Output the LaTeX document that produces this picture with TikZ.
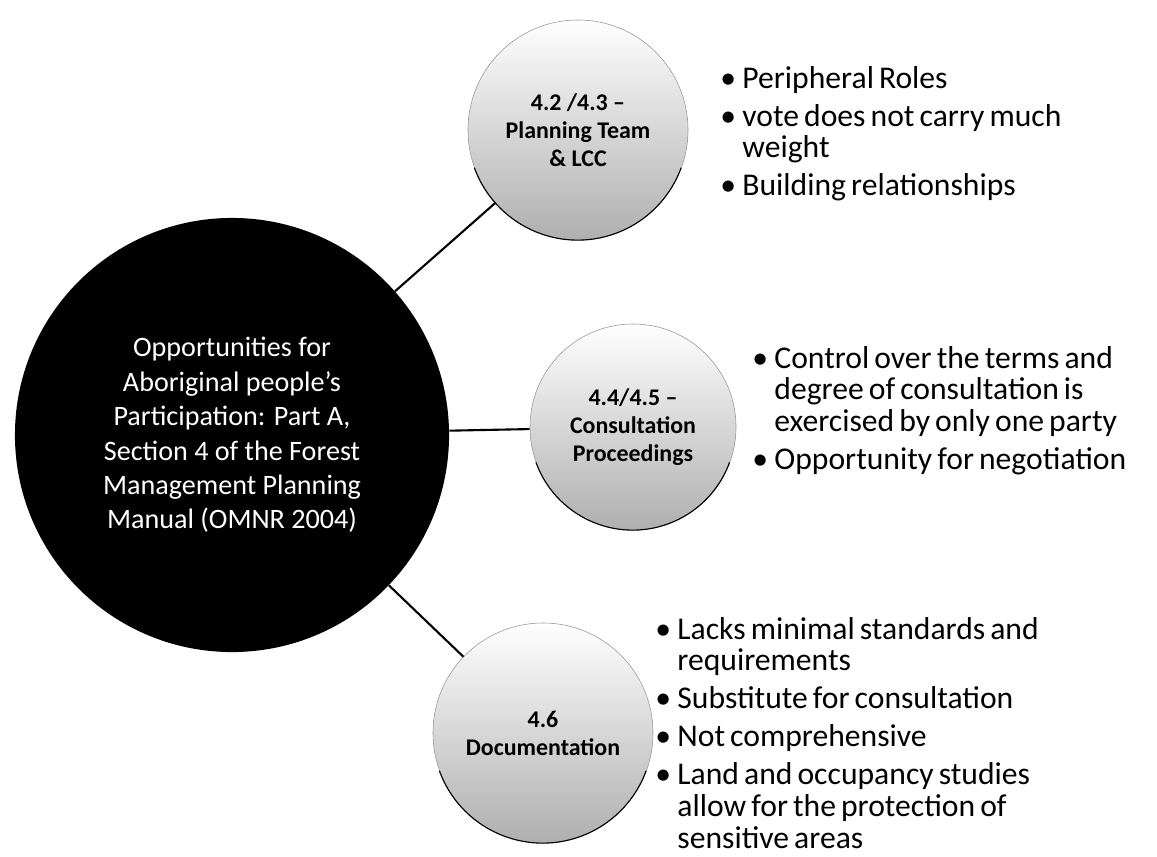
\documentclass[tikz,border=0pt]{standalone}
\usepackage{fontspec}
\setmainfont{Carlito}
\usetikzlibrary{positioning}
\tikzstyle{diagram} = [x = 0.025cm, y = -0.025cm]
\definecolor{rimColor}{RGB}{150,150,150}
\definecolor{speckleColor}{RGB}{175,175,175}
\tikzstyle{hubStyle} = [circle, fill=black, text=white, minimum size=10.85cm, align=center, font=\fontsize{20}{24.5}\selectfont]
\tikzstyle{topicStyle} = [circle, top color=white, middle color=white, bottom color=speckleColor, draw=rimColor, thin, align=center, font=\bfseries\fontsize{17}{20}\selectfont]
\tikzstyle{rimLine} = [black, thick]
\tikzstyle{linkLine} = [black, line width=1.5pt]
\tikzstyle{noteStyle} = [anchor=north west, inner sep=0pt, text width=10cm, font=\fontsize{22.5}{22.5}\selectfont]
\newcommand{\noteItem}[1]{\par\hangindent=0.7em\hangafter=1\noindent\makebox[0.7em][l]{\textbullet}#1\par}
\newcommand{\noteSetup}{\raggedright\spaceskip=0.16em plus 0.05em\setlength{\parskip}{4.5pt}}
\newcommand{\topicRim}[2]{\draw [rimLine] (#1.-160) arc [start angle=-160, end angle=-20, radius=#2];}

\begin{document}
\begin{tikzpicture}[diagram]
  \useasboundingbox (0,0) rectangle (1157,856);
  % central circle
  \node [hubStyle] (hub) at (232,435) {Opportunities for\\Aboriginal people's\\Participation: Part A,\\Section 4 of the Forest\\Management Planning\\Manual (OMNR 2004)};
  % the three topics
  \node [topicStyle, minimum size=5.5cm] (team) at (578,130) {4.2 /4.3 --\\Planning Team\\\& LCC};
  \node [topicStyle, minimum size=5.15cm] (consult) at (633,427) {4.4/4.5 --\\Consultation\\Proceedings};
  \node [topicStyle, minimum size=5.5cm] (docs) at (543,733) {4.6\\Documentation};
  \topicRim{team}{2.75cm}
  \topicRim{consult}{2.575cm}
  \topicRim{docs}{2.75cm}
  \draw [linkLine] (hub) -- (team);
  \draw [linkLine] (hub) -- (consult);
  \draw [linkLine] (hub) -- (docs);
  % notes beside each topic
  \node [noteStyle] (teamNotes) at (720,50) {\noteSetup
    \noteItem{Peripheral Roles}
    \noteItem{vote does not carry much\newline weight}
    \noteItem{Building relationships}};
  \node [noteStyle] (consultNotes) at (752,330) {\noteSetup
    \noteItem{Control over the terms and\newline degree of consultation is\newline exercised by only one party}
    \noteItem{Opportunity for negotiation}};
  \node [noteStyle] (docsNotes) at (655,601) {\noteSetup
    \noteItem{Lacks minimal standards and\newline requirements}
    \noteItem{Substitute for consultation}
    \noteItem{Not comprehensive}
    \noteItem{Land and occupancy studies\newline allow for the protection of\newline sensitive areas}};
\end{tikzpicture}
\end{document}
